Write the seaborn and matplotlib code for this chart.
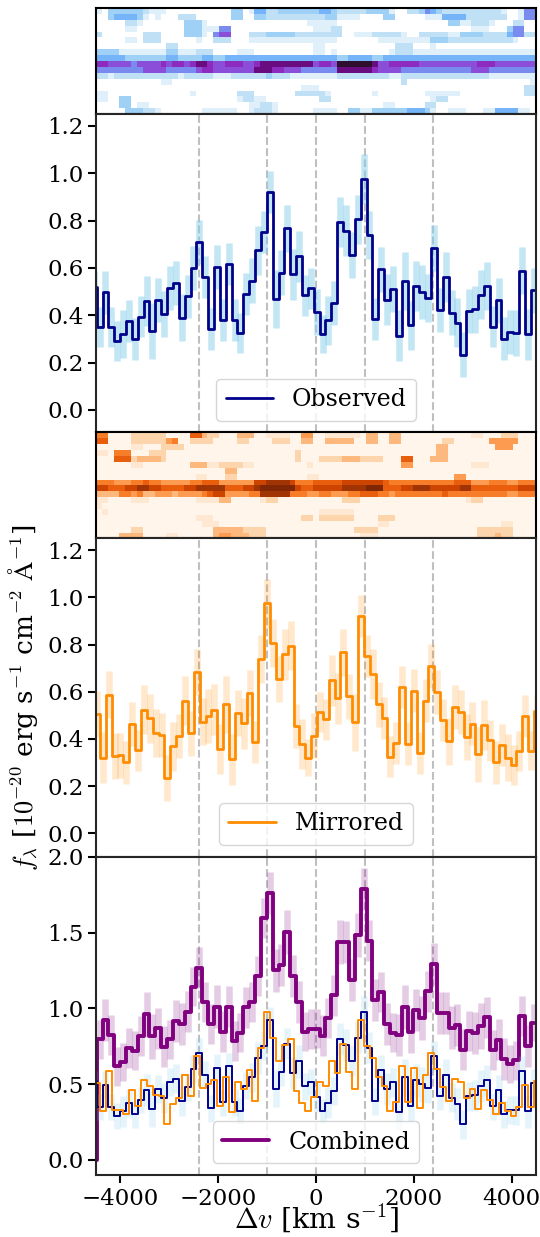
import numpy as np
import pandas as pd
import matplotlib
matplotlib.use("Agg")
import matplotlib.pyplot as plt
from matplotlib.colors import LinearSegmentedColormap
import seaborn as sns

# velocity bins
v_obs = [-4547, -4427, -4307, -4187, -4067, -3947, -3827, -3707, -3587, -3467, -3347, -3227, -3107, -2987, -2867, -2747,
         -2627, -2507, -2387, -2267, -2147, -2027, -1907, -1787, -1667, -1547, -1427, -1307, -1187, -1067, -947, -827,
         -707, -587, -467, -347, -227, -107, 13, 133, 253, 373, 493, 613, 733, 853, 973, 1093, 1213, 1333, 1453, 1573,
         1693, 1813, 1933, 2053, 2173, 2293, 2413, 2533, 2653, 2773, 2893, 3013, 3133, 3253, 3373, 3493, 3613, 3733,
         3853, 3973, 4093, 4213, 4333, 4453]
v_mir = [-4480, -4360, -4240, -4120, -4000, -3880, -3760, -3640, -3520, -3400, -3280, -3160, -3040, -2920, -2800, -2680,
         -2560, -2440, -2320, -2200, -2080, -1960, -1840, -1720, -1600, -1480, -1360, -1240, -1120, -1000, -880, -760,
         -640, -520, -400, -280, -160, -40, 80, 200, 320, 440, 560, 680, 800, 920, 1040, 1160, 1280, 1400, 1520, 1640,
         1760, 1880, 2000, 2120, 2240, 2360, 2480, 2600, 2720, 2840, 2960, 3080, 3200, 3320, 3440, 3560, 3680, 3800,
         3920, 4040, 4160, 4280, 4400, 4520]

# observed spectrum
obs = [.518, .35, .497, .35, .29, .32, .375, .30, .393, .459, .334, .465, .407, .513, .536, .39, .48, .60, .708, .562,
       .34, .605, .38, .618, .381, .325, .49, .546, .674, .751, .92, .47, .58, .767, .573, .649, .484, .513, .413, .32,
       .378, .453, .795, .758, .654, .806, .975, .739, .385, .594, .466, .511, .314, .546, .357, .524, .498, .473, .685,
       .423, .562, .411, .368, .234, .418, .425, .487, .524, .352, .463, .30, .33, .326, .588, .32, .505]
obs_err = [.07, .084, .09, .085, .085, .10, .09, .09, .087, .105, .118, .093, .097, .093, .094, .10, .091, .093, .093, .09,
           .089, .093, .09, .089, .089, .086, .089, .096, .105, .09, .089, .122, .094, .10, .108, .108, .087, .086, .096,
           .079, .105, .093, .105, .107, .098, .103, .105, .103, .089, .096, .107, .098, .108, .122, .104, .107, .115, .10,
           .098, .094, .104, .094, .104, .096, .093, .10, .105, .103, .087, .094, .091, .094, .098, .10, .108, .096]

# mirrored spectrum
mir = [.505, .32, .588, .326, .33, .30, .463, .352, .524, .487, .425, .418, .234, .368, .411, .562, .423, .685, .473, .498,
       .524, .357, .546, .314, .511, .466, .594, .385, .739, .975, .806, .654, .758, .795, .453, .378, .32, .413, .513,
       .484, .649, .573, .767, .58, .47, .92, .751, .674, .546, .49, .325, .381, .618, .38, .605, .34, .562, .708, .60,
       .48, .39, .536, .513, .407, .465, .334, .459, .393, .30, .375, .32, .29, .35, .497, .35, .518]
mir_err = [.096, .108, .10, .098, .094, .091, .094, .087, .103, .105, .10, .093, .096, .104, .094, .104, .094, .098, .10,
           .115, .107, .104, .122, .108, .098, .107, .096, .089, .103, .105, .103, .098, .107, .105, .093, .105, .079, .096,
           .086, .087, .108, .108, .10, .094, .122, .089, .09, .105, .096, .089, .086, .089, .089, .09, .093, .089, .09,
           .093, .093, .091, .10, .094, .093, .097, .093, .118, .105, .087, .09, .09, .10, .085, .085, .09, .084, .07]

# combined spectrum
comb = [0.0, .796, .92, .825, .616, .643, .737, .72, .818, .96, .814, .868, .746, .796, .917, .895, .978, 1.143, 1.268,
        1.042, .895, 1.011, .844, 1.009, .783, .84, 1.007, 1.042, 1.213, 1.596, 1.761, 1.25, 1.285, 1.502, 1.213, 1.042,
        .846, .862, .866, .818, .936, 1.086, 1.436, 1.436, 1.186, 1.485, 1.787, 1.447, 1.055, 1.107, .897, .84, .825,
        1.011, .844, .989, .936, 1.112, 1.294, .971, .971, .873, .89, .726, .851, .836, .884, .941, .726, .794, .664,
        .632, .658, .95, .752, .906]
comb_err = [0.0, .13, .138, .131, .127, .125, .131, .13, .131, .147, .149, .136, .136, .13, .138, .14, .135, .13, .135, .13,
            .13, .14, .135, .135, .13, .13, .135, .13, .135, .13, .136, .14, .14, .145, .14, .14, .13, .13, .13, .135, .135,
            .135, .145, .14, .14, .145, .138, .138, .14, .13, .14, .13, .138, .145, .14, .14, .145, .135, .14, .138, .138,
            .14, .136, .136, .13, .14, .15, .136, .13, .134, .14, .125, .128, .13, .14, .125]

line_pos = [-2400, -1000, 0, 1000, 2400]
xticks = [-4000, -2000, 0, 2000, 4000]

# 2d spectra, one digit per pixel
img_obs_rows = [
    "1033333321 1100000000 0003301442 2333333344 3222223333 1002235432 2222222221 00155",
    "0034444310 1000222000 0003300332 2222222223 3111100003 3000001114 4442222222 00155",
    "0000022100 0000033310 0000000000 0000001111 1000000000 0000000000 3311222100 02200",
    "0000011000 0000033311 1550000000 0000000111 2200000000 0000000000 0000111000 35500",
    "2000000022 2000033310 5660002223 3333222222 2200111222 2210022222 1133332222 45522",
    "0000011022 2000000100 2220001111 1111111111 1000000011 1111111333 2222222222 21000",
    "0000000000 0022000000 0000000000 0000000110 0000000000 0222000100 0000000000 00000",
    "3333111111 1133111222 0000111000 0000000110 1000000000 1222111111 1111111111 11111",
    "4444433333 3344333344 3344444444 4444444444 4334444334 4444444444 4444444444 44444",
    "7766665666 6767767887 6677766788 8888888677 6999999866 7777766666 6666677766 66666",
    "5555555566 6655555677 6666666888 7766655555 5888888766 6655555555 5555666555 55555",
    "2212222222 2222122222 1112222223 2221111111 1222222222 1122222222 2222222111 11111",
    "0000000000 0110000000 0000000000 0000000000 0000000000 0020000000 0000000000 00001",
    "0000000000 0000000000 0000000000 0000011100 0000000000 0000000000 0000000000 00022",
    "1100000000 0000001000 0000222000 0000222221 0000000100 0000001111 1100000000 00022",
    "1100330000 0000000000 0000122110 0000000022 0000000000 0000000122 0000000000 00000",
    "0000330110 0000000000 0000001122 1000000000 0000000001 1000002200 0000000000 00000",
    "0000033322 1000000011 1111001222 1000000111 1003311333 3334443100 1110001144 44110",
]
img_mir_rows = [
    "5500002222 2200006632 2000333001 1110044001 1111103300 3300000000 0000110002 22000",
    "6600002222 2245002222 0000220000 2220033003 3333003300 3300000002 2000000444 44000",
    "0000001100 0222200000 0000000000 0000000000 0000000000 0000000033 0000000044 40000",
    "1105550002 2200000000 0000000000 0000200000 0000000000 0000000033 0000000000 00000",
    "0006662333 3200000000 0000000000 0000200022 2233322220 0066000333 0000000000 00000",
    "0000001100 0000003331 1222211000 0000001000 0000000000 0044000000 0000111000 00000",
    "0000000000 0000000000 0033000000 0000000000 0000000000 0000000000 0000000000 00000",
    "0000000000 0000000110 0022000000 0000001100 0000000000 0000000000 0440000000 00000",
    "5554445565 5444445566 6444444778 8887555666 6677777776 5555555555 5666444555 44555",
    "7766677887 7666677888 8866677899 9999766777 7788889996 6677888777 7788666666 66777",
    "3333554533 4443444456 7744445588 8885554455 4445566655 4555555556 5555555555 44555",
    "1100001110 0000000111 1330000012 2000000000 0022200000 0000000000 0001220000 00000",
    "1000000000 0000000000 0000000000 0000000000 0000000000 0000000000 0000000000 00000",
    "0100000000 0000000000 0000000000 0000000011 1111000000 0000000000 0000000000 00000",
    "0000000000 0000000111 0000000000 0000022022 2222000022 2000000000 0000000000 00000",
    "0000000000 0000000011 1000000000 0000000000 0000000011 0000000000 0000000001 10000",
    "0000002200 0000000000 3333322220 0000000000 0000222200 0000000000 0000022222 20000",
    "0000333300 0011000000 3443332220 0000000000 0000011100 0000000000 0000022232 20000",
]


def to_image(rows):
    return pd.DataFrame([[int(c) for c in r.replace(" ", "")] for r in rows])


def draw_spectrum(ax, v, flux, err=None, color="k", band=None, label=None, lw=1.5, band_alpha=0.5):
    flux = np.array(flux)
    if err is not None:
        # thick error bars, one per bin
        ax.errorbar(v, flux, yerr=err, fmt="none", ecolor=band, elinewidth=4.7, alpha=band_alpha)
    sns.lineplot(x=v, y=flux, drawstyle="steps-mid", color=color, lw=lw, label=label,
                 estimator=None, errorbar=None, ax=ax)


def finish_panel(ax, yticks, ylim):
    for v in line_pos:
        ax.axvline(v, color="gray", ls="--", lw=1.5, alpha=0.5, zorder=0)
    ax.set_xlim(-4500, 4500)
    ax.set_ylim(*ylim)
    ax.set_yticks(yticks)
    ax.set_xticks(xticks)


def draw_image(ax, rows, cmap):
    sns.heatmap(to_image(rows), cmap=cmap, vmin=0, vmax=9, cbar=False, xticklabels=False,
                yticklabels=False, ax=ax)
    ax.tick_params(left=False, bottom=False)
    for s in ax.spines.values():
        s.set_visible(True)
        s.set_linewidth(1.5)
        s.set_color("black")


sns.set_theme(style="ticks")
plt.rcParams["font.family"] = ["DejaVu Serif"]
plt.rcParams["mathtext.fontset"] = "cm"
plt.rcParams["axes.linewidth"] = 1.5
plt.rcParams["xtick.major.width"] = 1.5
plt.rcParams["ytick.major.width"] = 1.5
plt.rcParams["xtick.major.size"] = 5.5
plt.rcParams["ytick.major.size"] = 5.5
plt.rcParams["xtick.labelsize"] = 16.5
plt.rcParams["ytick.labelsize"] = 16.5
plt.rcParams["xtick.color"] = "black"
plt.rcParams["ytick.color"] = "black"
plt.rcParams["text.color"] = "black"
plt.rcParams["axes.labelcolor"] = "black"

fig, axes = plt.subplots(5, 1, figsize=(5.4, 12.37), dpi=100,
                         gridspec_kw={"height_ratios": [1, 3, 1, 3, 3], "hspace": 0,
                                      "left": 96 / 540, "right": 536 / 540,
                                      "top": 1 - 8 / 1237, "bottom": 1 - 1175 / 1237})

cmap_obs = LinearSegmentedColormap.from_list(
    "obs", ["#ffffff", "#e0f0fa", "#bfe0f5", "#9fd0f6", "#74b4f8", "#7a8cf0", "#8a4ed8", "#8d2cc0", "#6a0c80", "#2e0f2e"])

draw_image(axes[0], img_obs_rows, cmap_obs)
draw_image(axes[2], img_mir_rows, "Oranges")

ax = axes[1]
draw_spectrum(ax, v_obs, obs, obs_err, "darkblue", "skyblue", label="Observed", lw=2.0)
finish_panel(ax, [0, .2, .4, .6, .8, 1.0, 1.2], (-0.095, 1.25))
ax.tick_params(bottom=False, labelbottom=False)

ax = axes[3]
draw_spectrum(ax, v_mir, mir, mir_err, "darkorange", "darkorange", label="Mirrored", lw=2.0, band_alpha=0.2)
finish_panel(ax, [0, .2, .4, .6, .8, 1.0, 1.2], (-0.1, 1.25))
ax.tick_params(bottom=False, labelbottom=False)
ax.set_ylabel(r"$f_{\lambda}$ [$10^{-20}$ erg s$^{-1}$ cm$^{-2}$ $\mathrm{\AA}^{-1}$]", fontsize=19, labelpad=5)

ax = axes[4]
draw_spectrum(ax, v_obs, comb, comb_err, "purple", "purple", label="Combined", lw=2.8, band_alpha=0.2)
draw_spectrum(ax, v_obs, obs, obs_err, "darkblue", "skyblue", lw=1.4, band_alpha=0.22)
draw_spectrum(ax, v_mir, mir, color="darkorange", lw=1.4)
finish_panel(ax, [0, .5, 1.0, 1.5, 2.0], (-0.1, 2.0))
ax.set_xlabel(r"$\Delta v$ [km s$^{-1}$]", fontsize=20.5, labelpad=-5)

for ax in [axes[1], axes[3], axes[4]]:
    ax.legend(loc="lower center", fontsize=17, handlelength=2.0)

fig.savefig("out.png", dpi=100)
